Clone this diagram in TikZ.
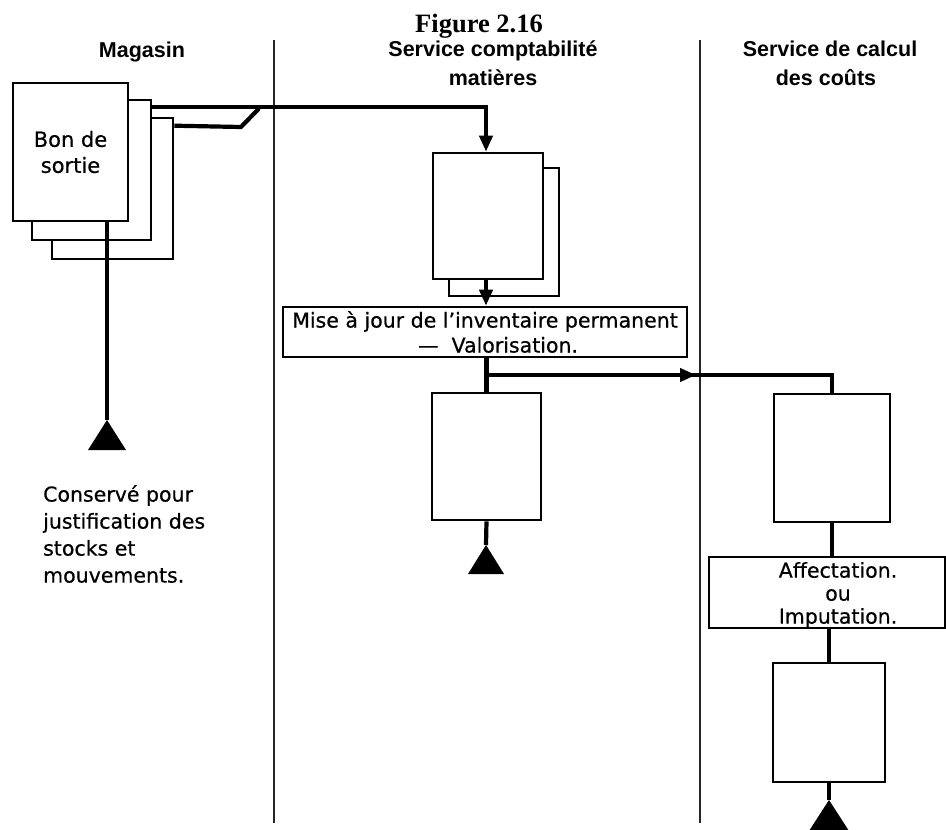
\documentclass[tikz,border=0pt]{standalone}
\usepackage{fontspec}
\setmainfont[FakeBold=0.6]{DejaVu Sans}
\newfontfamily\bodyfont[FakeBold=0.6]{DejaVu Sans}
\newfontfamily\hdfont{Liberation Sans}
\newfontfamily\ttlfont{Liberation Serif}
\usetikzlibrary{arrows.meta}
\begin{document}
\begin{tikzpicture}[x=1pt,y=-1pt,
  box/.style={draw, line width=2.6pt, fill=white, rectangle, inner sep=0pt},
  lblbox/.style={draw, line width=2.6pt, fill=white, rectangle, inner sep=0pt},
  flow/.style={line width=4.2pt},
  tip/.style={-{Triangle[length=16pt,width=13pt]}},
  lane/.style={line width=1.2pt, black!85},
  body/.style={font=\bodyfont\fontsize{20.5}{25}\selectfont, align=center, inner sep=0pt},
  hd/.style={font=\hdfont\bfseries\fontsize{21.5}{26}\selectfont, inner sep=0pt, text=black},
  file/.style={fill=black}
]
\useasboundingbox (0,0) rectangle (946,830);

% title and lane headers
\node[font=\ttlfont\bfseries\fontsize{26.5}{30}\selectfont, inner sep=0pt, anchor=base] (title) at (479,32) {Figure 2.16};
\node[hd, anchor=base] (hmag) at (142,57) {Magasin};
\node[hd, anchor=base] (hcpta) at (493,56) {Service comptabilité};
\node[hd, anchor=base] (hcptb) at (493,85) {matières};
\node[hd, anchor=base] (hcca) at (830,56) {Service de calcul};
\node[hd, anchor=base] (hccb) at (826,85) {des coûts};

% lane dividers
\draw[lane] (274,40) -- (274,823);
\draw[lane] (700,40) -- (700,823);

% Magasin: bon de sortie (3 copies)
\node[box, minimum width=121pt, minimum height=141pt] (bon3) at (112.5,188.5) {};
\node[box, minimum width=119pt, minimum height=140pt] (bon2) at (91.5,170) {};
\node[box, minimum width=115pt, minimum height=138pt, body, font=\bodyfont\fontsize{21}{26}\selectfont] (bon1) at (70.5,152) {Bon de\\sortie};

% copies going to service comptabilite
\coordinate (k1) at (241,127);
\coordinate (k2) at (259,108.5);
\draw[flow, line join=miter] ([yshift=-9pt]bon3.north east) -- (k1) -- (k2);

% middle lane documents
\node[box, minimum width=110pt, minimum height=128pt] (cpt2) at (504,232) {};
\node[box, minimum width=110pt, minimum height=126pt] (cpt1) at (488,216) {};

\draw[flow, tip] ([yshift=-8pt]bon2.north east) -| ([xshift=-2pt]cpt1.north);

% conserve (file) under magasin
\coordinate (t1) at (107,420);
\draw[flow] (bon1.south -| t1) -- (t1);
\fill[file] (t1) -- ++(19,30) -- ++(-38,0) -- cycle;
\node[body, align=left, anchor=north west, font=\bodyfont\fontsize{20.5}{27}\selectfont] (cons) at (43,485)
  {Conservé pour\\justification des\\stocks et\\mouvements.};

% mise a jour
\node[lblbox, minimum width=404pt, minimum height=50pt, body] (lbl1) at (485,332)
  {Mise à jour de l’inventaire permanent\\\ \ \ \ — \ Valorisation.};
\draw[flow, tip] ([xshift=-2pt]cpt1.south) -- ([xshift=-2pt]cpt1.south |- lbl1.north);

% second document of middle lane
\node[box, minimum width=109pt, minimum height=127pt] (cpt3) at (486.5,456.5) {};
\draw[flow] (lbl1.south -| cpt3.north) -- (cpt3.north);
\coordinate (br) at (486,375);
\coordinate (ah) at (696,375);
\node[box, minimum width=116pt, minimum height=128pt] (cc1) at (832,458) {};
\draw[flow, line join=miter] (br) -| (cc1.north);
\draw[flow, tip] (br) -- (ah);

\coordinate (t2) at (486,545);
\draw[flow] (cpt3.south) -- (t2);
\fill[file] (t2) -- ++(18,29) -- ++(-36,0) -- cycle;

% service de calcul des couts
\node[lblbox, minimum width=236pt, minimum height=71pt] (lbl2) at (827,592.5) {};
\node[body, font=\bodyfont\fontsize{20.5}{23}\selectfont] (lbl2t) at (838,595) {Affectation.\\ou\\Imputation.};
\draw[flow] (cc1.south) -- (cc1.south |- lbl2.north);
\node[box, minimum width=112pt, minimum height=119pt] (cc2) at (829,722.5) {};
\draw[flow] (lbl2.south -| cc2.north) -- (cc2.north);
\coordinate (t3) at (829,800);
\draw[flow] (cc2.south) -- (t3);
\fill[file] (t3) -- ++(20,31) -- ++(-40,0) -- cycle;
\end{tikzpicture}
\end{document}
